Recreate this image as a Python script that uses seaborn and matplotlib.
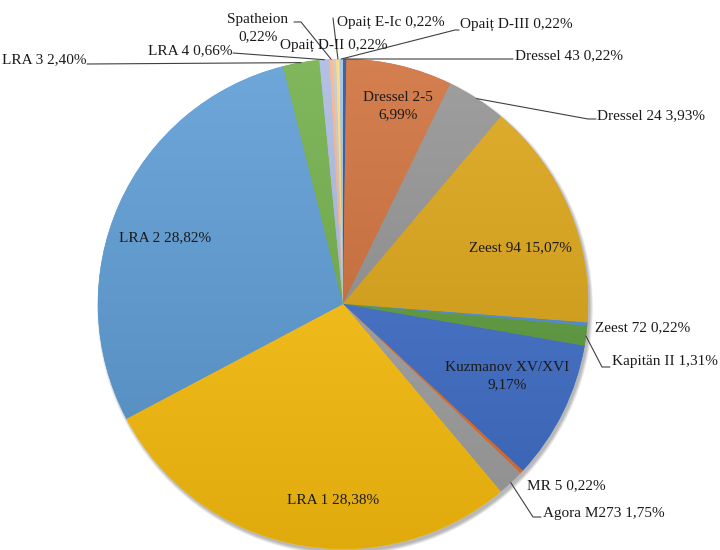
import numpy as np
import matplotlib
matplotlib.use('Agg')
import matplotlib.pyplot as plt
import seaborn as sns
from matplotlib.colors import to_rgb
from matplotlib.patches import Circle

# amphora types, clockwise from 12 o'clock
categories = ['Dressel 43', 'Dressel 2-5', 'Dressel 24', 'Zeest 94', 'Zeest 72',
              'Kapitän II', 'Kuzmanov XV/XVI', 'MR 5', 'Agora M273', 'LRA 1',
              'LRA 2', 'LRA 3', 'LRA 4', 'Spatheion', 'Opaiț D-II',
              'Opaiț E-Ic', 'Opaiț D-III']
shares = [0.22, 6.99, 3.93, 15.07, 0.22, 1.31, 9.17, 0.22, 1.75, 28.38,
          28.82, 2.40, 0.66, 0.22, 0.22, 0.22, 0.22]
slice_colors = ['#2E4E9A', '#CF6E38', '#929292', '#DCA414', '#4E8ED0',
                '#5C9B3C', '#3F6FC9', '#E8712A', '#A2A2A2', '#FFC20E',
                '#5B9BD5', '#70AD47', '#AAB9E2', '#F4B48C', '#C8C8C8',
                '#FFD97A', '#9CC3E6']
two_line = ['Dressel 2-5', 'Kuzmanov XV/XVI', 'Spatheion']

# label placement in pixels (x, y from top-left), leader line waypoints
layout = {
    'Dressel 43': dict(xy=(515, 56), ha='left', path=[(513, 59)]),
    'Dressel 2-5': dict(xy=(398, 106), ha='center'),
    'Dressel 24': dict(xy=(597, 116), ha='left', path=[(588, 119), (596, 119)]),
    'Zeest 94': dict(xy=(520, 248), ha='center'),
    'Zeest 72': dict(xy=(595, 328), ha='left'),
    'Kapitän II': dict(xy=(612, 362), ha='left', path=[(602, 367), (610, 367)]),
    'Kuzmanov XV/XVI': dict(xy=(507, 376), ha='center'),
    'MR 5': dict(xy=(527, 486), ha='left'),
    'Agora M273': dict(xy=(543, 513), ha='left', path=[(533, 517), (541, 517)]),
    'LRA 1': dict(xy=(333, 500), ha='center'),
    'LRA 2': dict(xy=(165, 238), ha='center'),
    'LRA 3': dict(xy=(86, 60), ha='right', path=[(87, 64)]),
    'LRA 4': dict(xy=(232, 51), ha='right', path=[(233, 53)]),
    'Spatheion': dict(xy=(258, 28), ha='center', path=[(301, 22), (294, 22)]),
    'Opaiț D-II': dict(xy=(280, 45), ha='left'),
    'Opaiț E-Ic': dict(xy=(337, 22), ha='left', path=[(333, 18)]),
    'Opaiț D-III': dict(xy=(460, 24), ha='left', path=[(455, 30), (459, 30)]),
}

sns.set_theme(style='white')
plt.rcParams['font.family'] = ['Liberation Serif', 'DejaVu Serif']

cx, cy, r = 343, 304, 245

fig = plt.figure(figsize=(7.2, 5.5), dpi=100)
ax = fig.add_axes([0, 0, 1, 1])

# soft shadow under the pie
for k in range(6):
    ax.add_patch(Circle((cx + 2, cy + 3), r + 0.6 * k, facecolor='black',
                        alpha=0.05, lw=0, zorder=0))

wedges, _ = ax.pie(shares, colors=sns.color_palette(slice_colors),
                   startangle=-90, counterclock=True, center=(cx, cy),
                   radius=r, wedgeprops=dict(linewidth=0.3), normalize=True)

# light-to-dark vertical gradient on every slice
t = np.linspace(0, 1, 256)[:, None]
for w, c in zip(wedges, slice_colors):
    w.set_edgecolor(c)
    base = np.array(to_rgb(c))
    top = base + (1 - base) * 0.12
    bot = base * 0.88
    grad = top[None, None, :] * (1 - t[:, :, None]) + bot[None, None, :] * t[:, :, None]
    im = ax.imshow(grad, extent=(cx - r, cx + r, cy + r, cy - r), origin='upper',
                   aspect='auto', zorder=w.get_zorder() + 0.1, interpolation='bilinear')
    im.set_clip_path(w)

for w, cat, val in zip(wedges, categories, shares):
    pct = f'{val:.2f}'.replace('.', ',') + '%'
    text = f'{cat}\n{pct}' if cat in two_line else f'{cat} {pct}'
    spec = layout[cat]
    ax.text(*spec['xy'], text, ha=spec['ha'], va='center', fontsize=11,
            color='#1a1a1a', linespacing=1.45, zorder=5)
    if 'path' in spec:
        mid = np.deg2rad((w.theta1 + w.theta2) / 2)
        pts = [(cx + r * np.cos(mid), cy + r * np.sin(mid))] + spec['path']
        xs, ys = zip(*pts)
        ax.plot(xs, ys, color='#404040', lw=0.8, zorder=4)

ax.set_xlim(0, 720)
ax.set_ylim(550, 0)
ax.set_aspect('equal')
ax.axis('off')

fig.savefig('out.png', dpi=100)
